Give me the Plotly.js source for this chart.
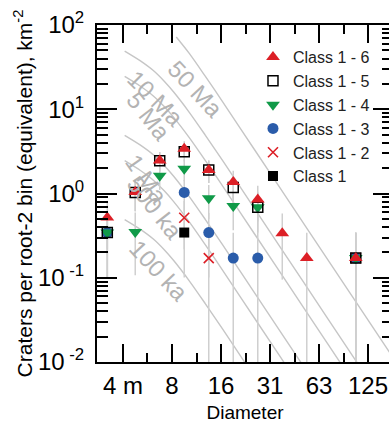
<!DOCTYPE html>
<html><head><meta charset="utf-8">
<script src="https://cdn.plot.ly/plotly-3.0.1.min.js"></script>
<style>html,body{margin:0;padding:0;overflow:hidden;background:#fff}#chart{width:400px;height:423px}</style>
</head><body><div id="chart"></div>
<script>
// ---- crater counts per root-2 bin (km^-2) ----
const class16X = [3.13, 4.645, 6.57, 9.29, 13.14, 18.58, 26.28, 37.16, 52.56, 105.1];
const class16Y = [0.52, 1.04, 2.47, 3.40, 1.90, 1.37, 0.85, 0.337, 0.171, 0.171];
const class16Err = [0.30, 0.42, 0.64, 0.77, 0.57, 0.49, 0.385, 0.242, 0.171, 0.171];

const class15X = [3.13, 4.645, 6.57, 9.29, 13.14, 18.58, 26.28, 105.1];
const class15Y = [0.344, 1.03, 2.45, 3.13, 1.90, 1.18, 0.685, 0.171];
const class15Err = [0.243, 0.42, 0.64, 0.73, 0.57, 0.455, 0.344, 0.171];

const class14X = [3.13, 4.645, 6.57, 9.29, 13.14, 18.58, 26.28, 105.1];
const class14Y = [0.344, 0.35, 1.62, 1.97, 0.88, 0.71, 0.685, 0.171];
const class14Err = [0.243, 0.243, 0.516, 0.57, 0.385, 0.344, 0.344, 0.171];

const class13X = [3.13, 9.29, 13.14, 18.58, 26.28, 105.1];
const class13Y = [0.344, 1.03, 0.344, 0.171, 0.171, 0.171];
const class13Err = [0.243, 0.42, 0.243, 0.171, 0.171, 0.171];

const class12X = [9.29, 13.14, 105.1];
const class12Y = [0.516, 0.171, 0.171];
const class12Err = [0.298, 0.171, 0.171];

const class1X = [9.29, 105.1];
const class1Y = [0.344, 0.171];
const class1Err = [0.243, 0.171];

// ---- isochrons ----
const isoD = [4, 5, 6, 7, 8, 10, 12.5, 16, 25, 50, 100, 200];
const iso100ka = [0.49, 0.375, 0.288, 0.215, 0.160, 0.0914, 0.0494, 0.0245, 0.0067, 0.000897, 0.00012, 0.000016];
const iso500ka = [2.45, 1.875, 1.44, 1.075, 0.80, 0.457, 0.247, 0.1225, 0.0335, 0.00449, 0.0006, 0.00008];
const iso1Ma = [4.90, 3.75, 2.88, 2.15, 1.60, 0.914, 0.494, 0.245, 0.067, 0.00897, 0.0012, 0.00016];
const iso5Ma = [24.5, 18.75, 14.4, 10.75, 8.0, 4.57, 2.47, 1.225, 0.335, 0.0449, 0.0060, 0.0008];
const iso10Ma = [49.0, 37.5, 28.8, 21.5, 16.0, 9.14, 4.94, 2.45, 0.670, 0.0897, 0.0120, 0.00161];
const iso50D = [8.3, 10, 12.5, 16, 25, 50, 100, 200];
const iso50Ma = [72.0, 45.7, 24.7, 12.25, 3.35, 0.449, 0.060, 0.00805];

const isoLabels = ['50 Ma', '10 Ma', '5 Ma', '1 Ma', '500 ka', '100 ka'];

// ---- axis ticks ----
const xTickVals = [3.90625, 7.8125, 15.625, 31.25, 62.5, 125];
const xTickText = ['4 m', '8', '16', '31', '63', '125'];
const xMinorVals = [5.524, 11.049, 22.097, 44.194, 88.388];
const yTickVals = [0.01, 0.1, 1, 10, 100];
const yTickText = ['10<sup> -2</sup>', '10<sup> -1</sup>', '10<sup>0</sup>', '10<sup>1</sup>', '10<sup>2</sup>'];
const yMinorVals = [];
[0.01, 0.1, 1, 10].forEach(d => { for (let k = 2; k <= 9; k++) yMinorVals.push(d * k); });

const FONT = 'Liberation Sans, Arial, Helvetica, sans-serif';
const RED = '#dc1f26', GREEN = '#109a48', BLUE = '#2a5caa';
const ERRC = '#cfcfcf', ISOC = '#c6c6c6', LABC = '#b3b3b3';

const traces = [];
// isochron lines
[[isoD, iso100ka], [isoD, iso500ka], [isoD, iso1Ma], [isoD, iso5Ma], [isoD, iso10Ma], [iso50D, iso50Ma]].forEach(p => {
  traces.push({x: p[0], y: p[1], mode: 'lines', line: {color: ISOC, width: 1.4, shape: 'spline', smoothing: 0.8},
    showlegend: false, hoverinfo: 'skip'});
});
const series = [
  {name: 'Class 1', x: class1X, y: class1Y, e: class1Err, marker: {symbol: 'square', size: 10, color: '#000'}},
  {name: 'Class 1 - 2', x: class12X, y: class12Y, e: class12Err, marker: {symbol: 'x-thin-open', size: 10, color: RED, line: {width: 1.6, color: RED}}},
  {name: 'Class 1 - 3', x: class13X, y: class13Y, e: class13Err, marker: {symbol: 'circle', size: 11, color: BLUE}},
  {name: 'Class 1 - 4', x: class14X, y: class14Y, e: class14Err, marker: {symbol: 'triangle-down', size: 12, color: GREEN}},
  {name: 'Class 1 - 5', x: class15X, y: class15Y, e: class15Err, marker: {symbol: 'square-open', size: 10, color: '#000', line: {width: 1.5, color: '#000'}}},
  {name: 'Class 1 - 6', x: class16X, y: class16Y, e: class16Err, marker: {symbol: 'triangle-up', size: 12, color: RED}}
];
// error bars (drawn beneath all markers)
series.forEach(s => {
  traces.push({x: s.x, y: s.y, mode: 'markers', marker: {opacity: 0, size: 2}, showlegend: false, hoverinfo: 'skip',
    error_y: {type: 'data', array: s.e, visible: true, color: ERRC, thickness: 1.5, width: 0}});
});
series.forEach(s => {
  traces.push({x: s.x, y: s.y, name: s.name, mode: 'markers', marker: s.marker});
});

const P = (px, py) => [(px - 97) / 296, (362 - py) / 337];
const labelPos = [[195, 88.5, 47], [155.5, 98.5, 45], [149, 116, 52], [147, 179, 55], [155, 207, 52], [159, 270, 47]];
const annotations = isoLabels.map((t, i) => {
  const p = P(labelPos[i][0], labelPos[i][1]);
  return {text: t, xref: 'paper', yref: 'paper', x: p[0], y: p[1], xanchor: 'center', yanchor: 'middle',
    textangle: labelPos[i][2], showarrow: false, font: {family: FONT, size: 24, color: LABC}};
});

const layout = {
  width: 400, height: 423,
  margin: {l: 97, r: 7, t: 25, b: 61},
  paper_bgcolor: '#fff', plot_bgcolor: '#fff',
  font: {family: FONT, color: '#000'},
  showlegend: true,
  legend: {x: 0.527, y: 0.955, xanchor: 'left', yanchor: 'top', traceorder: 'reversed',
    font: {family: FONT, size: 16, color: '#222'}, bgcolor: 'rgba(0,0,0,0)'},
  xaxis: {type: 'log', range: [0.4322, 2.2502], tickmode: 'array', tickvals: xTickVals, ticktext: xTickText,
    ticks: 'inside', ticklen: 18, tickwidth: 2, tickcolor: '#000', mirror: 'ticks', showline: true, linewidth: 2, linecolor: '#000',
    minor: {tickmode: 'array', tickvals: xMinorVals, ticks: 'inside', ticklen: 9, tickwidth: 2, tickcolor: '#000', showgrid: false},
    showgrid: false, zeroline: false, tickfont: {family: FONT, size: 24, color: '#000'}, ticklabelstandoff: 1,
    title: {text: 'Diameter', standoff: 13, font: {family: FONT, size: 19, color: '#000'}}},
  yaxis: {type: 'log', range: [-2, 2], tickmode: 'array', tickvals: yTickVals, ticktext: yTickText,
    ticks: 'inside', ticklen: 20, tickwidth: 2, tickcolor: '#000', mirror: 'ticks', showline: true, linewidth: 2, linecolor: '#000',
    minor: {tickmode: 'array', tickvals: yMinorVals, ticks: 'inside', ticklen: 11, tickwidth: 2, tickcolor: '#000', showgrid: false},
    showgrid: false, zeroline: false, tickfont: {family: FONT, size: 24, color: '#000'}, ticklabelstandoff: 6,
    title: {text: 'Craters per root-2 bin (equivalent), km<sup>-2</sup>', font: {family: FONT, size: 21, color: '#000'}}},
  annotations: annotations
};

Plotly.newPlot('chart', traces, layout, {displayModeBar: false, staticPlot: true});
</script></body></html>
